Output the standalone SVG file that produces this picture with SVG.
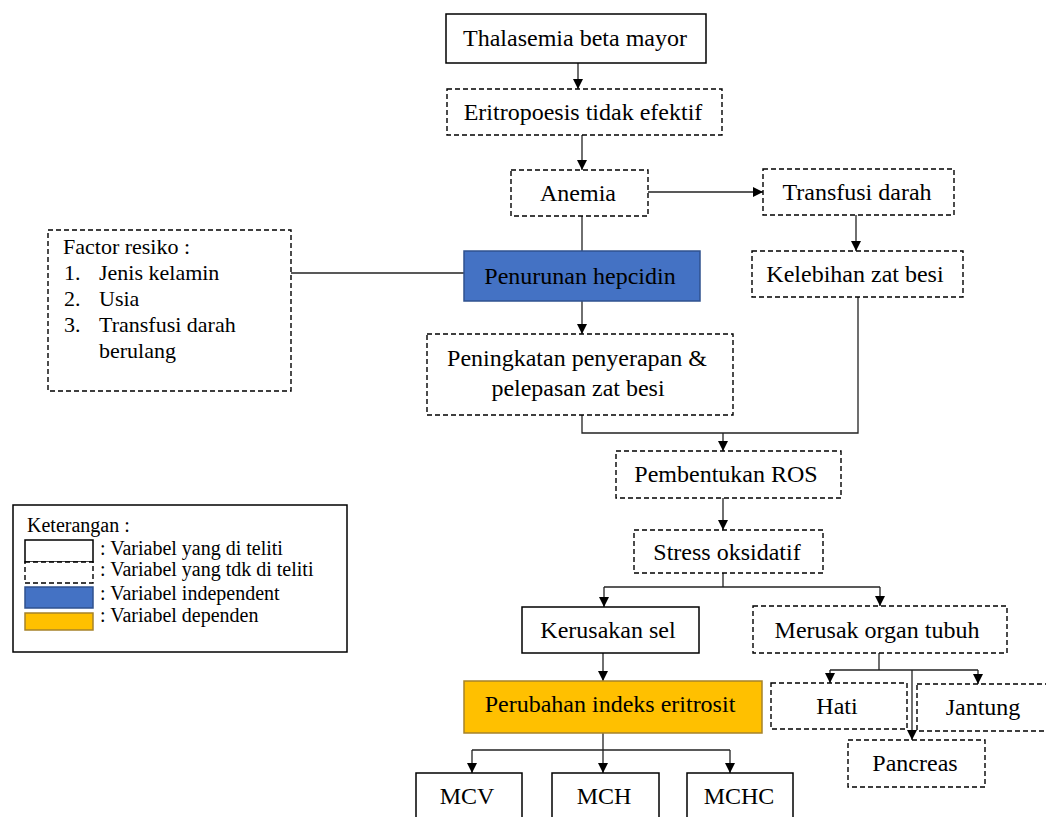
<svg xmlns="http://www.w3.org/2000/svg" width="1046" height="817" viewBox="0 0 1046 817" font-family="'Liberation Serif', 'Times New Roman', serif">
<style>
.s{fill:#fff;stroke:#000;stroke-width:1.5}
.d{fill:#fff;stroke:#000;stroke-width:1.4;stroke-dasharray:5,3}
.ind{fill:#4472C4;stroke:#2F528F;stroke-width:1.5}
.dep{fill:#FFC000;stroke:#A6832A;stroke-width:1.5}
text{fill:#000;font-family:'Liberation Serif','Times New Roman',serif}
.t{font-size:24px;text-anchor:middle}
.f{font-size:22px}
.l{font-size:20px}
.c{fill:none;stroke:#222;stroke-width:1.3}
</style>
<defs>
<marker id="ah" viewBox="0 0 10 10" refX="10" refY="5" markerWidth="10" markerHeight="10" markerUnits="userSpaceOnUse" orient="auto">
<path d="M0,0 L10,5 L0,10 z" fill="#000"/>
</marker>
</defs>
<rect width="1046" height="817" fill="#fff"/>

<g id="connectors">
<line class="c" x1="578" y1="63" x2="578" y2="89" marker-end="url(#ah)"/>
<line class="c" x1="582" y1="135" x2="582" y2="170" marker-end="url(#ah)"/>
<line class="c" x1="648" y1="192" x2="763" y2="192" marker-end="url(#ah)"/>
<line class="c" x1="582" y1="216" x2="582" y2="251"/>
<line class="c" x1="291" y1="273" x2="464" y2="273"/>
<line class="c" x1="582" y1="301" x2="582" y2="334" marker-end="url(#ah)"/>
<line class="c" x1="856" y1="215" x2="856" y2="251" marker-end="url(#ah)"/>
<polyline class="c" points="582,415 582,433 858,433 858,297"/>
<line class="c" x1="723" y1="433" x2="723" y2="451" marker-end="url(#ah)"/>
<line class="c" x1="723" y1="498" x2="723" y2="530" marker-end="url(#ah)"/>
<line class="c" x1="723" y1="573" x2="723" y2="587"/>
<line class="c" x1="604" y1="587" x2="880" y2="587"/>
<line class="c" x1="604" y1="587" x2="604" y2="607" marker-end="url(#ah)"/>
<line class="c" x1="880" y1="587" x2="880" y2="606" marker-end="url(#ah)"/>
<line class="c" x1="603" y1="653" x2="603" y2="681" marker-end="url(#ah)"/>
<line class="c" x1="603" y1="733" x2="603" y2="773" marker-end="url(#ah)"/>
<line class="c" x1="472" y1="750" x2="730" y2="750"/>
<line class="c" x1="472" y1="750" x2="472" y2="773" marker-end="url(#ah)"/>
<line class="c" x1="730" y1="750" x2="730" y2="773" marker-end="url(#ah)"/>
<line class="c" x1="879" y1="653" x2="879" y2="670"/>
<line class="c" x1="830" y1="670" x2="978" y2="670"/>
<line class="c" x1="830" y1="670" x2="830" y2="683" marker-end="url(#ah)"/>
<line class="c" x1="978" y1="670" x2="978" y2="684" marker-end="url(#ah)"/>
<line class="c" x1="912" y1="670" x2="912" y2="740" marker-end="url(#ah)"/>
</g>

<g id="thalasemia"><rect class="s" x="446" y="14" width="260" height="49"/><text class="t" x="575" y="46">Thalasemia beta mayor</text></g>
<g id="eritropoesis"><rect class="d" x="447" y="89" width="275" height="46"/><text class="t" x="583" y="120">Eritropoesis tidak efektif</text></g>
<g id="anemia"><rect class="d" x="511" y="170" width="137" height="46"/><text class="t" x="578" y="201">Anemia</text></g>
<g id="transfusi"><rect class="d" x="763" y="169" width="191" height="46"/><text class="t" x="857" y="200">Transfusi darah</text></g>
<g id="factor"><rect class="d" x="48" y="230" width="243" height="161"/>
<text class="f" x="63" y="254">Factor resiko :</text>
<text class="f" x="64" y="280">1.</text><text class="f" x="99" y="280">Jenis kelamin</text>
<text class="f" x="64" y="306">2.</text><text class="f" x="99" y="306">Usia</text>
<text class="f" x="64" y="332">3.</text><text class="f" x="99" y="332">Transfusi darah</text>
<text class="f" x="99" y="358">berulang</text></g>
<g id="penurunan"><rect class="ind" x="464" y="251" width="236" height="50"/><text class="t" x="580" y="284">Penurunan hepcidin</text></g>
<g id="kelebihan"><rect class="d" x="752" y="251" width="211" height="46"/><text class="t" x="855" y="282">Kelebihan zat besi</text></g>
<g id="peningkatan"><rect class="d" x="427" y="334" width="306" height="81"/><text class="t" x="577" y="366">Peningkatan penyerapan &amp;</text><text class="t" x="578" y="396">pelepasan zat besi</text></g>
<g id="ros"><rect class="d" x="616" y="451" width="225" height="47"/><text class="t" x="726" y="482">Pembentukan ROS</text></g>
<g id="stress"><rect class="d" x="634" y="530" width="189" height="43"/><text class="t" x="727" y="560">Stress oksidatif</text></g>
<g id="kerusakan"><rect class="s" x="522" y="607" width="177" height="46"/><text class="t" x="608" y="638">Kerusakan sel</text></g>
<g id="merusak"><rect class="d" x="753" y="606" width="254" height="47"/><text class="t" x="877" y="638">Merusak organ tubuh</text></g>
<g id="perubahan"><rect class="dep" x="464" y="681" width="298" height="52"/><text class="t" x="610" y="712">Perubahan indeks eritrosit</text></g>
<g id="hati"><rect class="d" x="771" y="683" width="136" height="46"/><text class="t" x="837" y="714">Hati</text></g>
<g id="jantung"><rect class="d" x="917" y="684" width="140" height="47"/><text class="t" x="983" y="715">Jantung</text></g>
<g id="pancreas"><rect class="d" x="848" y="740" width="137" height="47"/><text class="t" x="915" y="771">Pancreas</text></g>
<g id="mcv"><rect class="s" x="416" y="773" width="106" height="52"/><text class="t" x="467" y="804">MCV</text></g>
<g id="mch"><rect class="s" x="552" y="773" width="107" height="52"/><text class="t" x="604" y="804">MCH</text></g>
<g id="mchc"><rect class="s" x="687" y="773" width="106" height="52"/><text class="t" x="739" y="804">MCHC</text></g>

<g id="legend">
<rect class="s" x="13" y="505" width="334" height="147"/>
<text class="l" x="27" y="532">Keterangan :</text>
<rect class="s" x="25" y="540" width="68" height="22"/>
<rect class="d" x="25" y="562" width="68" height="21"/>
<rect class="ind" x="25" y="587" width="68" height="21"/>
<rect class="dep" x="25" y="613" width="68" height="17"/>
<text class="l" x="100" y="555">: Variabel yang di teliti</text>
<text class="l" x="100" y="576">: Variabel yang tdk di teliti</text>
<text class="l" x="100" y="600">: Variabel independent</text>
<text class="l" x="100" y="622">: Variabel dependen</text>
</g>
</svg>
